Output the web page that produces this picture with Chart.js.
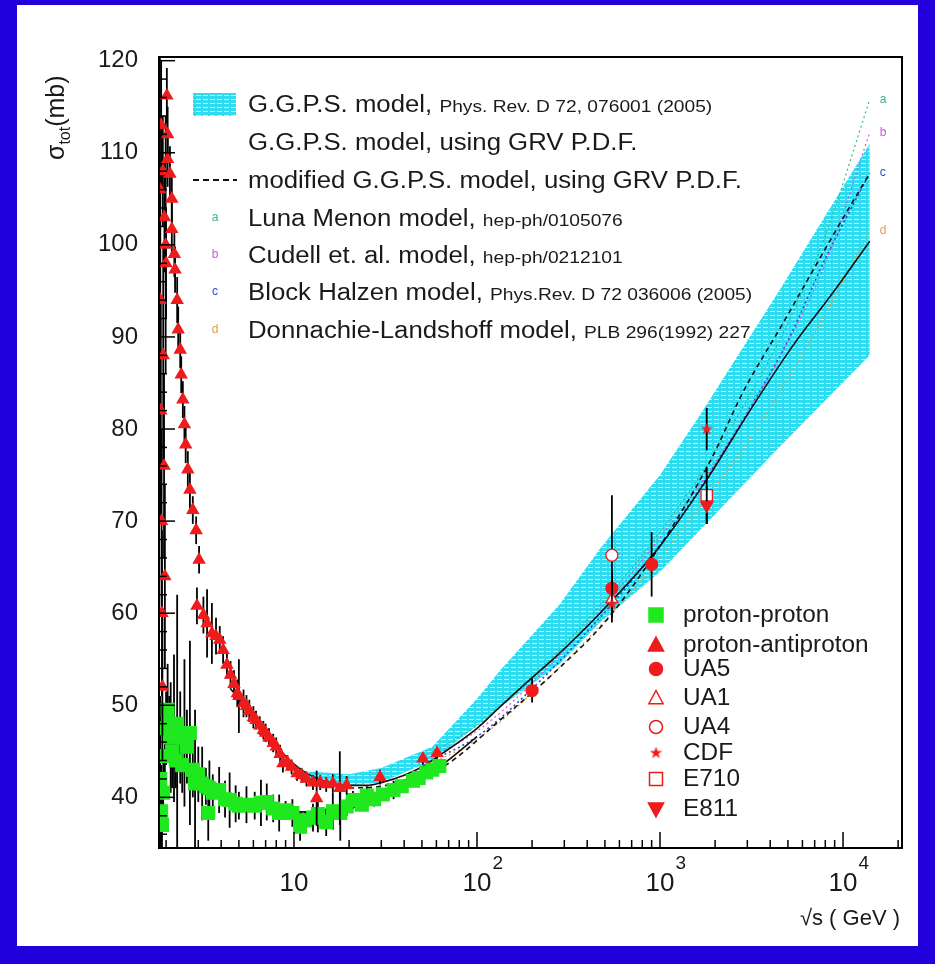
<!DOCTYPE html>
<html>
<head>
<meta charset="utf-8">
<script src="https://cdn.jsdelivr.net/npm/chart.js@4.4.1/dist/chart.umd.min.js"></script>
<style>
  html, body { margin: 0; padding: 0; background: #fff; }
  canvas { display: block; }
</style>
</head>
<body>
<canvas id="c" width="935" height="964"></canvas>
<script>
// ---- proton-proton total cross sections (sqrt(s) in GeV, sigma in mb) ----
const ppEnergy = [1.86,1.88,1.90,1.93,1.97,2.00,2.04,2.08,2.12,2.16,2.21,2.26,2.30,2.39,2.45,2.52,2.60,2.70,2.80,2.88,3.00,3.15,3.30,3.40,3.45,3.60,3.90,4.20,4.45,4.80,5.00,5.50,6.10,6.60,7.10,7.70,8.30,9.00,9.80,10.8,11.5,12.7,13.5,15.0,16.3,17.9,19.4,21.0,23.5,25.0,27.4,30.6,35.0,38.8,44.7,48.0,52.8,57.0,62.3];
const ppSigma  = [42.0,38.5,37.0,40.5,44.5,47.5,49.5,48.0,46.5,45.0,47.5,44.0,48.0,46.5,43.5,47.0,45.5,47.0,43.0,41.5,42.5,41.5,41.2,38.3,41.0,40.5,40.8,39.8,39.7,39.3,39.1,39.2,39.1,39.4,39.5,38.8,38.3,38.6,38.3,36.8,37.5,37.8,38.2,37.3,38.5,38.3,39.0,39.7,39.2,40.2,39.8,40.3,40.8,41.2,41.8,42.1,42.7,43.0,43.4];
const ppError  = [9,5,3,4,3,4,5,3,6,4,8,3,14,5,3,8,4,10,3,8,3,4,2,3,3,2,2.5,2,3,2,1.5,2,1.5,2.5,2,1.5,2,1,1.5,1.5,1,1.5,2,1.5,2,3,1,1,0.5,1,0.8,0.5,1,0.6,0.5,0.6,0.4,0.6,0.5];

// ---- proton-antiproton total cross sections ----
const pbarpEnergy = [1.85,1.86,1.87,1.89,1.90,1.91,1.93,1.95,1.97,1.99,1.88,1.92,1.96,2.00,2.02,2.04,2.04,2.10,2.15,2.15,2.22,2.24,2.30,2.33,2.39,2.42,2.47,2.52,2.56,2.63,2.70,2.80,2.92,3.03,2.95,3.20,3.35,3.56,3.75,3.93,4.10,4.30,4.50,4.70,4.90,5.00,5.30,5.50,5.70,6.00,6.20,6.50,6.80,7.00,7.30,7.70,8.00,8.40,8.70,9.20,9.70,10.4,11.0,11.7,12.7,13.3,13.9,15.0,16.3,17.8,19.4,29.5,50.6,60.5];
const pbarpSigma  = [106.0,94.0,82.0,70.0,60.0,52.0,88.0,76.0,64.0,100.0,113.0,108.0,103.0,98.0,116.2,112.0,109.3,107.7,105.0,101.7,99.0,97.3,94.0,90.8,88.6,85.9,83.2,80.5,78.3,75.6,73.4,71.2,69.0,65.8,60.8,59.8,58.9,57.8,57.5,57.1,56.0,54.4,53.3,52.3,51.3,51.0,50.2,49.9,49.4,48.7,48.4,47.8,47.3,47.0,46.5,45.9,45.5,44.7,43.7,43.8,43.3,42.6,42.4,42.0,41.6,39.9,41.6,41.4,41.5,41.0,41.3,42.2,44.2,44.8];
const pbarpError  = [15,14,12,10,9,8,12,10,10,14,7,6,6,6,3,3,3,3,3,3,2.5,2.5,2.5,2.5,2,2,2,2,2,2,2,1.5,1.5,1.5,2,2,3.7,3.3,2,1.5,1.5,1.5,1.5,1.5,1.5,4,1.5,1.2,1.2,1.2,1,1,1,1,1,1,1,1,1,0.8,0.8,0.8,0.8,0.8,0.8,3,0.8,0.8,1,4,1,0.8,0.6,0.6];

// ---- collider measurements ----
const ua5Energy  = [200, 546, 900];  const ua5Sigma  = [51.6, 62.7, 65.3]; const ua5Error  = [1.3, 2.0, 3.5];
const ua1Energy  = [546];            const ua1Sigma  = [61.5];             const ua1Error  = [2.5];
const ua4Energy  = [546];            const ua4Sigma  = [66.3];             const ua4Error  = [6.5];
const cdfEnergy  = [546, 1800];      const cdfSigma  = [61.0, 80.0];       const cdfError  = [1.5, 2.3];
const e710Energy = [1800];           const e710Sigma = [72.8];             const e710Error = [3.1];
const e811Energy = [1800];           const e811Sigma = [71.7];             const e811Error = [2.0];

// ---- G.G.P.S. model band ----
const bandEnergy = [12, 20, 30, 57, 100, 134, 284, 470, 1000, 1650, 4470, 14000];
const bandUpper  = [42.8, 42.5, 43.2, 45.5, 50.7, 53.8, 61.0, 67.0, 75.0, 81.5, 95.0, 111.0];
const bandLower  = [41.8, 41.3, 41.6, 44.0, 47.8, 49.8, 54.5, 59.0, 64.5, 69.0, 78.0, 88.0];

// ---- G.G.P.S. model using GRV PDF (solid) ----
const ggpsPbarpEnergy = [4.5,5,6,7,8,10,12,15,20,25,30,40,50,65,100,133,200,267,470,1000,1800,3100,5300,8800,14000];
const ggpsPbarpSigma  = [51.8,50.7,48.7,47.0,45.6,43.6,42.5,41.7,41.3,41.3,41.6,42.4,43.3,44.8,47.5,49.8,53.0,55.2,60.0,67.3,74.5,82.0,89.0,94.8,100.4];
const ggpsPpEnergy = [8, 10, 12, 15, 20, 30, 45, 65, 100];
const ggpsPpSigma  = [38.9, 38.5, 38.4, 38.6, 39.1, 40.2, 41.7, 43.6, 46.6];

// ---- modified G.G.P.S. model using GRV PDF (dashed) ----
const modPbarpEnergy = [20, 30, 50, 65, 134, 273, 513, 1000, 1880, 2840, 4700, 8800, 14000];
const modPbarpSigma  = [41.0, 41.2, 42.5, 43.3, 48.4, 53.8, 59.3, 67.3, 76.5, 84.0, 91.5, 101.0, 107.8];
const modPpEnergy = [8.4, 12, 20, 30, 45, 63];
const modPpSigma  = [38.6, 38.2, 38.8, 39.9, 41.4, 43.2];

// ---- other models (a, b, c, d) ----
const modelEnergy = [50, 100, 200, 546, 1000, 1800, 3000, 5000, 8000, 14000];
const lunaMenonSigma   = [44.3, 47.8, 53.0, 62.3, 68.8, 76.0, 83.2, 91.5, 101.0, 115.8];
const cudellSigma      = [43.9, 47.2, 52.4, 61.8, 68.2, 75.0, 81.8, 89.4, 98.0, 112.2];
const blockHalzenSigma = [43.5, 46.6, 51.8, 61.0, 67.4, 74.7, 81.8, 89.6, 98.5, 107.8];
const dlSigma          = [43.2, 46.3, 51.3, 60.0, 66.0, 72.5, 78.5, 85.5, 92.5, 101.5];

// ---- axis ticks ----
const xMajorTicks = [10, 100, 1000, 10000];
const xMajorExps  = ['', '2', '3', '4'];
const yTickLabels = [40, 50, 60, 70, 80, 90, 100, 110, 120];

// ---- legend texts ----
const modelLegendMain = ['G.G.P.S. model,', 'G.G.P.S. model, using GRV P.D.F.', 'modified G.G.P.S. model, using GRV P.D.F.',
  'Luna Menon model,', 'Cudell et. al. model,', 'Block Halzen model,', 'Donnachie-Landshoff model,'];
const modelLegendRef = ['Phys. Rev. D 72, 076001 (2005)', '', '', 'hep-ph/0105076', 'hep-ph/0212101',
  'Phys.Rev. D 72 036006 (2005)', 'PLB 296(1992) 227'];
const dataLegend = ['proton-proton', 'proton-antiproton', 'UA5', 'UA1', 'UA4', 'CDF', 'E710', 'E811'];

const FONT = '"Liberation Sans", Arial, Helvetica, sans-serif';
const GREEN = '#1fe81f', RED = '#ee1c1c', CYAN = '#2fdcef';
const COL_A = '#3cb878', COL_B = '#cc55dd', COL_C = '#3344cc', COL_D = '#e0a040';

const canvas = document.getElementById('c');
const ctx0 = canvas.getContext('2d');

// horizontal-hatch fill for the model band
function makeHatch() {
  const p = document.createElement('canvas');
  p.width = 7; p.height = 4;
  const g = p.getContext('2d');
  g.fillStyle = CYAN; g.fillRect(0, 0, 7, 4);
  g.fillStyle = 'rgba(255,255,255,0.8)'; g.fillRect(0, 3, 5, 1);
  return ctx0.createPattern(p, 'repeat');
}
const hatch = makeHatch();

function makeStar(size, color) {
  const c = document.createElement('canvas');
  c.width = c.height = size;
  const g = c.getContext('2d');
  g.fillStyle = color; g.beginPath();
  for (let i = 0; i < 10; i++) {
    const r = i % 2 ? size * 0.2 : size * 0.5;
    const a = -Math.PI / 2 + i * Math.PI / 5;
    g.lineTo(size / 2 + r * Math.cos(a), size / 2 + r * Math.sin(a));
  }
  g.closePath(); g.fill();
  return c;
}
const starImg = makeStar(13, RED);

const pts = (xs, ys) => xs.map((x, i) => ({ x: x, y: ys[i] }));

function curve(xs, ys, color, width, dash, order) {
  return { data: pts(xs, ys), borderColor: color, borderWidth: width, borderDash: dash,
    pointRadius: 0, fill: false, cubicInterpolationMode: 'monotone', order: order };
}
function markers(xs, ys, errs, style, radius, fillCol, rot, order) {
  return { data: pts(xs, ys), errors: errs, showLine: false, pointStyle: style, pointRadius: radius,
    pointBackgroundColor: fillCol, pointBorderColor: style === 'rect' && fillCol === GREEN ? GREEN : RED,
    pointBorderWidth: 1.3, pointRotation: rot || 0, order: order };
}

const datasets = [
  { data: pts(bandEnergy, bandUpper), borderWidth: 0, pointRadius: 0, fill: '+1', backgroundColor: hatch, order: 20 },
  { data: pts(bandEnergy, bandLower), borderWidth: 0, pointRadius: 0, fill: false, order: 21 },
  curve(modelEnergy, lunaMenonSigma, COL_A, 1.2, [2, 3], 12),
  curve(modelEnergy, cudellSigma, COL_B, 1.2, [2, 3], 12),
  curve(modelEnergy, blockHalzenSigma, COL_C, 1.6, [2, 3], 12),
  curve(modelEnergy, dlSigma, COL_D, 1.2, [2, 3], 12),
  curve(modPbarpEnergy, modPbarpSigma, '#111', 1.6, [5, 4], 11),
  curve(modPpEnergy, modPpSigma, '#111', 1.6, [5, 4], 11),
  curve(ggpsPbarpEnergy, ggpsPbarpSigma, '#111', 1.6, [], 10),
  curve(ggpsPpEnergy, ggpsPpSigma, '#111', 1.6, [], 10),
  markers(ppEnergy, ppSigma, ppError, 'rect', 9, GREEN, 0, 5),
  markers(pbarpEnergy, pbarpSigma, pbarpError, 'triangle', 6.5, RED, 0, 4),
  markers(ua5Energy, ua5Sigma, ua5Error, 'circle', 6, RED, 0, 3),
  markers(ua1Energy, ua1Sigma, ua1Error, 'triangle', 7, '#fff', 0, 2),
  markers(ua4Energy, ua4Sigma, ua4Error, 'circle', 6, '#fff', 0, 2),
  markers(cdfEnergy, cdfSigma, cdfError, starImg, 7, RED, 0, 1),
  markers(e710Energy, e710Sigma, e710Error, 'rect', 8, '#fff', 0, 1),
  markers(e811Energy, e811Sigma, e811Error, 'triangle', 7, RED, 180, 0)
];

// white page inside the blue frame
const pagePlugin = {
  id: 'page',
  beforeDraw(chart) {
    const c = chart.ctx;
    c.save();
    c.fillStyle = '#2200dc'; c.fillRect(0, 0, chart.width, chart.height);
    c.fillStyle = '#ffffff'; c.fillRect(17, 5, 901, 941);
    c.restore();
  }
};

// vertical error bars, drawn just before each marker set
const errorBarPlugin = {
  id: 'errorBars',
  beforeDatasetDraw(chart, args) {
    const ds = chart.data.datasets[args.index];
    if (!ds.errors) return;
    const c = chart.ctx, xs = chart.scales.x, ys = chart.scales.y, a = chart.chartArea;
    c.save();
    c.beginPath(); c.rect(a.left, a.top, a.right - a.left, a.bottom - a.top); c.clip();
    c.strokeStyle = '#000'; c.lineWidth = 1.8;
    ds.data.forEach((p, i) => {
      const e = ds.errors[i];
      const px = xs.getPixelForValue(p.x);
      c.beginPath();
      c.moveTo(px, ys.getPixelForValue(p.y - e));
      c.lineTo(px, ys.getPixelForValue(p.y + e));
      c.stroke();
    });
    c.restore();
  }
};

function drawMarker(c, style, x, y, r, fill, stroke) {
  c.save();
  c.fillStyle = fill; c.strokeStyle = stroke; c.lineWidth = 1.5;
  c.beginPath();
  if (style === 'rect') { c.rect(x - r, y - r, 2 * r, 2 * r); }
  else if (style === 'tri') { c.moveTo(x, y - r); c.lineTo(x + r * 0.95, y + r * 0.75); c.lineTo(x - r * 0.95, y + r * 0.75); c.closePath(); }
  else if (style === 'dtri') { c.moveTo(x, y + r); c.lineTo(x + r * 0.95, y - r * 0.75); c.lineTo(x - r * 0.95, y - r * 0.75); c.closePath(); }
  else if (style === 'circle') { c.arc(x, y, r, 0, Math.PI * 2); }
  c.fill(); c.stroke();
  c.restore();
}

// text with a horizontal stretch; returns the drawn width
function wideText(c, text, x, y, font, sx) {
  c.save();
  c.font = font;
  const w = c.measureText(text).width * sx;
  c.translate(x, y); c.scale(sx, 1);
  c.fillText(text, 0, 0);
  c.restore();
  return w;
}

const decorPlugin = {
  id: 'decor',
  afterDraw(chart) {
    const c = chart.ctx, xs = chart.scales.x, ys = chart.scales.y, a = chart.chartArea;
    c.save();
    // frame
    c.strokeStyle = '#000'; c.lineWidth = 2;
    c.strokeRect(a.left, a.top, a.right - a.left, a.bottom - a.top);
    // x ticks (inward)
    c.lineWidth = 1.5;
    for (let k = 0; k <= 4; k++) {
      for (let m = 1; m <= 9; m++) {
        const v = m * Math.pow(10, k);
        if (v < xs.min || v > xs.max) continue;
        const px = xs.getPixelForValue(v), len = m === 1 ? 16 : 8;
        c.beginPath(); c.moveTo(px, a.bottom); c.lineTo(px, a.bottom - len); c.stroke();
      }
    }
    // y ticks (inward)
    for (let v = 36; v <= 120; v += 2) {
      const py = ys.getPixelForValue(v), len = v % 10 === 0 ? 16 : 8;
      c.beginPath(); c.moveTo(a.left, py); c.lineTo(a.left + len, py); c.stroke();
    }
    // y tick labels
    c.fillStyle = '#1a1a1a';
    c.font = '24px ' + FONT; c.textAlign = 'right'; c.textBaseline = 'middle';
    yTickLabels.forEach(v => c.fillText(String(v), 138, ys.getPixelForValue(v)));
    // x tick labels, powers of ten
    c.textBaseline = 'alphabetic';
    xMajorTicks.forEach((v, i) => {
      const px = xs.getPixelForValue(v);
      c.font = '26px ' + FONT; c.textAlign = 'center';
      c.fillText('10', px, 891);
      if (xMajorExps[i]) {
        const w = c.measureText('10').width;
        c.font = '19px ' + FONT; c.textAlign = 'left';
        c.fillText(xMajorExps[i], px + w / 2 + 1, 869);
      }
    });
    // axis titles
    c.font = '22px ' + FONT; c.textAlign = 'right';
    c.fillText('\u221As ( GeV )', 900, 925);
    c.save();
    c.translate(64, 160); c.rotate(-Math.PI / 2);
    c.textAlign = 'left';
    c.font = '25px ' + FONT; c.fillText('\u03C3', 0, 0);
    let w = c.measureText('\u03C3').width;
    c.font = '16px ' + FONT; c.fillText('tot', w, 6);
    w += c.measureText('tot').width;
    c.font = '25px ' + FONT; c.fillText('(mb)', w, 0);
    c.restore();

    // model legend
    const rowsY = [104, 142, 180, 218, 255, 292, 330];
    c.fillStyle = hatch; c.fillRect(193, 93, 43, 23);
    c.strokeStyle = '#111'; c.lineWidth = 2; c.setLineDash([6, 4]);
    c.beginPath(); c.moveTo(193, rowsY[2]); c.lineTo(237, rowsY[2]); c.stroke();
    c.setLineDash([]);
    const letters = ['a', 'b', 'c', 'd'], letterCols = [COL_A, COL_B, COL_C, COL_D];
    c.font = '12px ' + FONT; c.textAlign = 'center'; c.textBaseline = 'middle';
    letters.forEach((l, i) => { c.fillStyle = letterCols[i]; c.fillText(l, 215, rowsY[3 + i]); });
    c.textAlign = 'left'; c.textBaseline = 'alphabetic';
    c.fillStyle = '#1a1a1a';
    modelLegendMain.forEach((t, i) => {
      const tw = wideText(c, t + ' ', 248, rowsY[i] + 8, '23px ' + FONT, 1.12);
      if (modelLegendRef[i]) wideText(c, modelLegendRef[i], 248 + tw, rowsY[i] + 8, '16px ' + FONT, 1.2);
    });

    // letters at the end of the model curves
    const ends = [lunaMenonSigma, cudellSigma, blockHalzenSigma, dlSigma];
    const endX = xs.getPixelForValue(modelEnergy[modelEnergy.length - 1]) + 10;
    c.font = '12px ' + FONT; c.textBaseline = 'middle';
    ends.forEach((arr, i) => {
      c.fillStyle = letterCols[i];
      c.fillText(letters[i], endX, ys.getPixelForValue(arr[arr.length - 1]));
    });

    // data legend
    const dY = [615, 645, 669, 698, 727, 753, 779, 809], sx = 656;
    drawMarker(c, 'rect', sx, dY[0], 7, GREEN, GREEN);
    drawMarker(c, 'tri', sx, dY[1], 8, RED, RED);
    drawMarker(c, 'circle', sx, dY[2], 6.5, RED, RED);
    drawMarker(c, 'tri', sx, dY[3], 7.5, '#fff', RED);
    drawMarker(c, 'circle', sx, dY[4], 6.5, '#fff', RED);
    c.drawImage(starImg, sx - 6.5, dY[5] - 6.5);
    drawMarker(c, 'rect', sx, dY[6], 6.5, '#fff', RED);
    drawMarker(c, 'dtri', sx, dY[7], 8, RED, RED);
    c.fillStyle = '#1a1a1a'; c.textAlign = 'left'; c.textBaseline = 'middle';
    dataLegend.forEach((t, i) => wideText(c, t, 683, dY[i] + 1, '23px ' + FONT, 1.06));
    c.restore();
  }
};

new Chart(canvas, {
  type: 'line',
  data: { datasets: datasets },
  options: {
    responsive: false,
    animation: false,
    events: [],
    layout: { padding: { left: 159, top: 57, right: 33, bottom: 116 } },
    plugins: { legend: { display: false }, tooltip: { enabled: false } },
    scales: {
      x: { type: 'logarithmic', min: 1.83, max: 21000, display: false },
      y: { type: 'linear', min: 34.5, max: 120.4, display: false }
    }
  },
  plugins: [pagePlugin, errorBarPlugin, decorPlugin]
});
</script>
</body>
</html>
